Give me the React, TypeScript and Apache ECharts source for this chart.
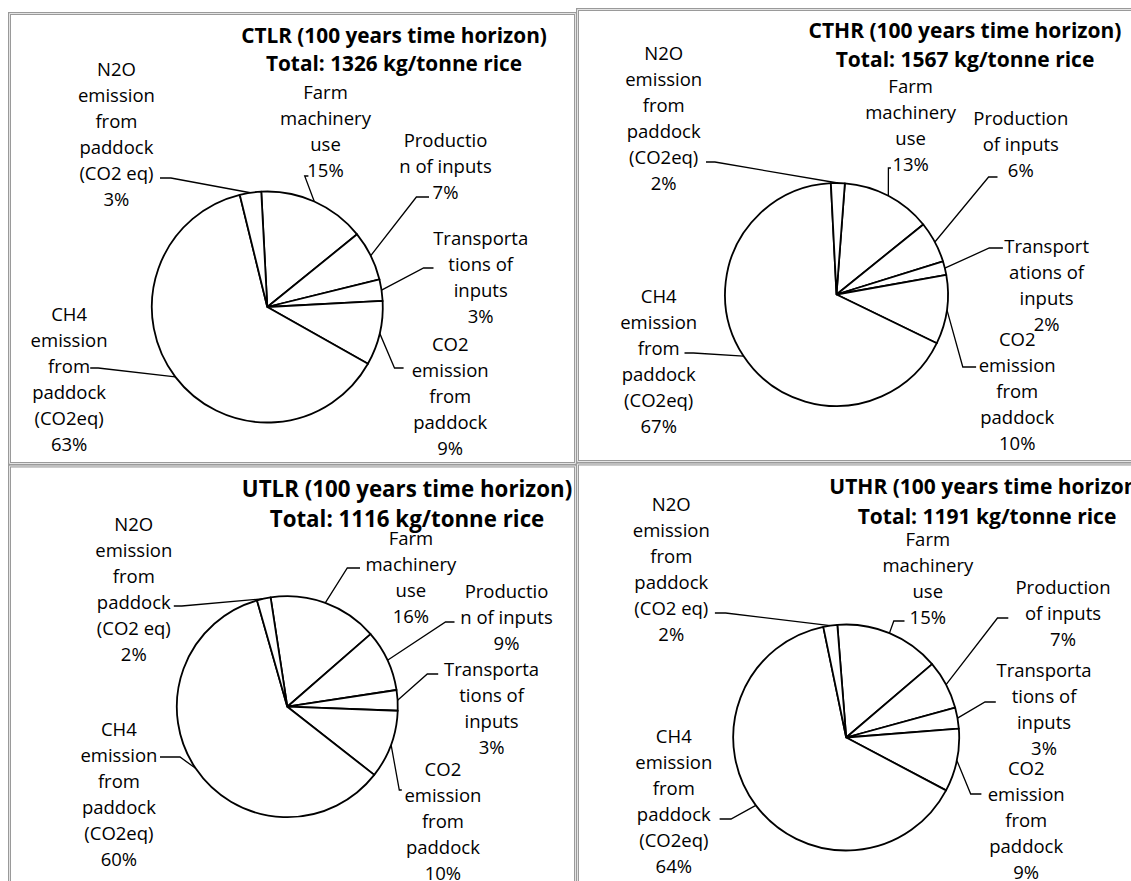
import React, { useEffect, useRef } from 'react';
import * as echarts from 'echarts';

// ---- data ----
const scenarios = ['CTLR', 'CTHR', 'UTLR', 'UTHR'];
const totals = [1326, 1567, 1116, 1191];

const ctlrValues = [15, 7, 3, 9, 63, 3];
const cthrValues = [13, 6, 2, 10, 67, 2];
const utlrValues = [16, 9, 3, 10, 60, 2];
const uthrValues = [15, 7, 3, 9, 64, 2];

const ctlrLabels = ['Farm\nmachinery\nuse', 'Productio\nn of inputs', 'Transporta\ntions of\ninputs', 'CO2\nemission\nfrom\npaddock', 'CH4\nemission\nfrom\npaddock\n(CO2eq)', 'N2O\nemission\nfrom\npaddock\n(CO2 eq)'];
const cthrLabels = ['Farm\nmachinery\nuse', 'Production\nof inputs', 'Transport\nations of\ninputs', 'CO2\nemission\nfrom\npaddock', 'CH4\nemission\nfrom\npaddock\n(CO2eq)', 'N2O\nemission\nfrom\npaddock\n(CO2eq)'];
const utlrLabels = ['Farm\nmachinery\nuse', 'Productio\nn of inputs', 'Transporta\ntions of\ninputs', 'CO2\nemission\nfrom\npaddock', 'CH4\nemission\nfrom\npaddock\n(CO2eq)', 'N2O\nemission\nfrom\npaddock\n(CO2 eq)'];
const uthrLabels = ['Farm\nmachinery\nuse', 'Production\nof inputs', 'Transporta\ntions of\ninputs', 'CO2\nemission\nfrom\npaddock', 'CH4\nemission\nfrom\npaddock\n(CO2eq)', 'N2O\nemission\nfrom\npaddock\n(CO2 eq)'];

const allValues = [ctlrValues, cthrValues, utlrValues, uthrValues];
const allLabels = [ctlrLabels, cthrLabels, utlrLabels, uthrLabels];

// ---- layout (styles / positions) ----
const pieGeom = [
  { c: [267.3, 307], r: 115.5, start: 93 },
  { c: [836.5, 294.5], r: 111.5, start: 85.7 },
  { c: [287.3, 706.7], r: 110.5, start: 98.7 },
  { c: [846.2, 737.5], r: 113, start: 94.5 },
];

const titleGeom = [
  { x: 394, y: 35, size: 20.8, lh: 28 },
  { x: 965, y: 30, size: 21, lh: 29 },
  { x: 407, y: 488, size: 22.3, lh: 30 },
  { x: 987, y: 486, size: 21, lh: 30 },
];

// label: [centerX, firstLineCenterY], leader mid, leader end
const labelGeom = [
  [
    { p: [325.5, 91], m: [304.7, 176], e: [308.4, 176] },
    { p: [445.5, 139], m: [416.4, 197], e: [429, 197] },
    { p: [480.7, 237], m: [423.6, 268], e: [433.5, 268] },
    { p: [450.2, 343], m: [394.5, 368], e: [403.6, 368] },
    { p: [69.1, 313], m: [98.2, 368], e: [90.2, 368] },
    { p: [116.4, 68], m: [170.9, 178], e: [160, 178] },
  ],
  [
    { p: [910.6, 85], m: [888.4, 168], e: [890.9, 168] },
    { p: [1020.8, 117], m: [988.6, 177], e: [997.5, 177] },
    { p: [1046.6, 245], m: [989.3, 248], e: [1002.9, 248] },
    { p: [1017.2, 338], m: [962.8, 367], e: [976.1, 367] },
    { p: [658.7, 295], m: [693.4, 353], e: [684.5, 353] },
    { p: [663.7, 52], m: [714.9, 162], e: [706, 162] },
  ],
  [
    { p: [410.9, 537], m: [347.3, 568], e: [360, 568] },
    { p: [506.5, 590], m: [445.5, 622], e: [454.5, 622] },
    { p: [491.6, 668], m: [427.3, 674], e: [438.2, 674] },
    { p: [442.9, 768], m: [399.3, 790], e: [401.8, 790] },
    { p: [118.9, 728], m: [180, 757], e: [160, 757] },
    { p: [133.8, 523], m: [181.8, 606], e: [173.8, 606] },
  ],
  [
    { p: [927.8, 538], m: [893.8, 621], e: [904.5, 621] },
    { p: [1063, 586], m: [997.5, 618], e: [1008.3, 618] },
    { p: [1044, 669], m: [985, 702], e: [995.8, 702] },
    { p: [1026.2, 767], m: [970.7, 794], e: [981.4, 794] },
    { p: [673.8, 735], m: [731, 819], e: [719.6, 819] },
    { p: [671.3, 503], m: [725.6, 613], e: [714.9, 613] },
  ],
];

const panelRects = [
  { x: 9.5, y: 13.5, w: 566, h: 450 },
  { x: 577.5, y: 9.5, w: 600, h: 452 },
  { x: 9.5, y: 466, w: 566, h: 500 },
  { x: 577.5, y: 464, w: 600, h: 500 },
];

const LABEL_FONT = '"Open Sans", "Noto Sans", sans-serif';
const LINE_H = 26;

function edgePoint(k: number, i: number): number[] {
  const vals = allValues[k];
  const g = pieGeom[k];
  const total = vals.reduce((a, b) => a + b, 0);
  let before = 0;
  for (let j = 0; j < i; j++) before += vals[j];
  const ang = ((g.start - ((before + vals[i] / 2) / total) * 360) * Math.PI) / 180;
  return [g.c[0] + g.r * Math.cos(ang), g.c[1] - g.r * Math.sin(ang)];
}

export default function App() {
  const ref = useRef<HTMLDivElement>(null);
  useEffect(() => {
    if (!ref.current) return;
    const chart = echarts.init(ref.current, undefined, { renderer: 'svg' });

    const series = allValues.map((vals, k) => ({
      type: 'pie',
      silent: true,
      center: pieGeom[k].c,
      radius: pieGeom[k].r,
      startAngle: pieGeom[k].start,
      clockwise: true,
      avoidLabelOverlap: false,
      data: vals.map((v, i) => ({ name: allLabels[k][i], value: v })),
      itemStyle: { color: '#ffffff', borderColor: '#000000', borderWidth: 1.8 },
      label: {
        show: true,
        position: 'outside',
        formatter: (p: any) => `${p.name}\n${p.value}%`,
        color: '#000000',
        fontFamily: LABEL_FONT,
        fontSize: 18.5,
        lineHeight: LINE_H,
        align: 'center',
      },
      labelLine: {
        show: true,
        length: 10,
        length2: 10,
        lineStyle: { color: '#000000', width: 1.3 },
      },
      labelLayout: (params: any) => {
        const lg = labelGeom[k][params.dataIndex];
        const pts = params.labelLinePoints;
        const start = pts && pts.length ? pts[0] : edgePoint(k, params.dataIndex);
        return {
          x: lg.p[0],
          y: lg.p[1] - LINE_H / 2,
          align: 'center',
          verticalAlign: 'top',
          hideOverlap: false,
          labelLinePoints: [start, lg.m, lg.e],
        };
      },
      emphasis: { disabled: true },
    }));

    const titles = scenarios.map((s, k) => ({
      text: `${s} (100 years time horizon)\nTotal: ${totals[k]} kg/tonne rice`,
      left: titleGeom[k].x,
      top: titleGeom[k].y - titleGeom[k].lh / 2,
      textAlign: 'center',
      padding: 0,
      textStyle: {
        fontFamily: LABEL_FONT,
        fontWeight: 'bold',
        fontSize: titleGeom[k].size,
        lineHeight: titleGeom[k].lh,
        color: '#000000',
      },
    }));

    const borders: any[] = [];
    panelRects.forEach((r) => {
      borders.push({
        type: 'rect',
        shape: { x: r.x, y: r.y, width: r.w, height: r.h },
        style: { fill: 'none', stroke: '#9a9a9a', lineWidth: 3 },
        silent: true,
      });
      borders.push({
        type: 'rect',
        shape: { x: r.x, y: r.y, width: r.w, height: r.h },
        style: { fill: 'none', stroke: '#e4e4e4', lineWidth: 1 },
        silent: true,
      });
    });

    chart.setOption({
      animation: false,
      backgroundColor: '#ffffff',
      title: titles,
      graphic: { elements: borders },
      series,
    });

    return () => chart.dispose();
  }, []);

  return (
    <div
      ref={ref}
      style={{ position: 'absolute', left: 0, top: 0, width: 1131, height: 881 }}
    />
  );
}
